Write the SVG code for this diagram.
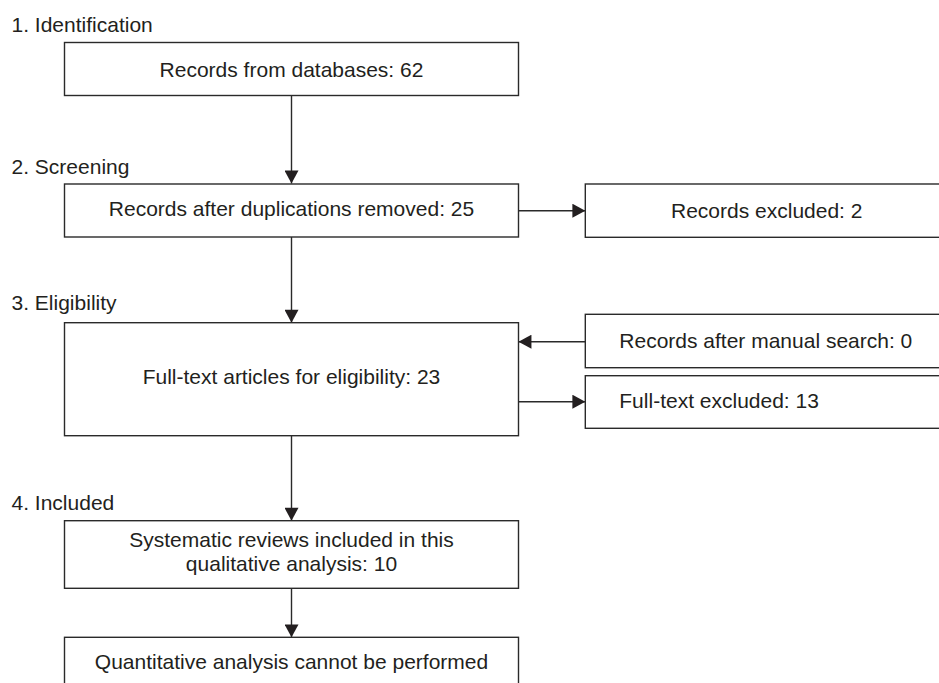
<svg xmlns="http://www.w3.org/2000/svg" width="939" height="683" viewBox="0 0 939 683">
<style>
  .box { fill: #ffffff; stroke: #2a2a2a; stroke-width: 1.4; }
  .t { font-family: "Liberation Sans", Arial, sans-serif; font-size: 21px; fill: #231f20; }
  .c { text-anchor: middle; }
  .edge { stroke: #2a2a2a; stroke-width: 1.4; fill: none; marker-end: url(#arr); }
</style>
<defs>
  <marker id="arr" markerUnits="userSpaceOnUse" markerWidth="14" markerHeight="14" viewBox="0 0 12 13" refX="12" refY="6.5" orient="auto">
    <path d="M0,0 L12,6.5 L0,13 Z" fill="#231f20"/>
  </marker>
</defs>
<rect width="939" height="683" fill="#ffffff"/>

<g id="stage-labels">
  <text class="t" x="11.5" y="32">1. Identification</text>
  <text class="t" x="11.5" y="173.5">2. Screening</text>
  <text class="t" x="11.5" y="309.5">3. Eligibility</text>
  <text class="t" x="11.5" y="510">4. Included</text>
</g>

<g id="connectors">
  <line class="edge" x1="291.5" y1="95.5" x2="291.5" y2="183.5"/>
  <line class="edge" x1="291.5" y1="237" x2="291.5" y2="322.7"/>
  <line class="edge" x1="291.5" y1="435.5" x2="291.5" y2="520.7"/>
  <line class="edge" x1="291.5" y1="588.3" x2="291.5" y2="637.3"/>
  <line class="edge" x1="518.5" y1="210.7" x2="585.3" y2="210.7"/>
  <line class="edge" x1="585.3" y1="341.7" x2="518.5" y2="341.7"/>
  <line class="edge" x1="518.5" y1="401.7" x2="585.3" y2="401.7"/>
</g>

<g id="n-databases">
  <rect class="box" x="64.5" y="42.5" width="454" height="53"/>
  <text class="t c" x="291.5" y="77">Records from databases: 62</text>
</g>
<g id="n-duplicates">
  <rect class="box" x="64.5" y="184" width="454" height="53"/>
  <text class="t c" x="291.5" y="215.5">Records after duplications removed: 25</text>
</g>
<g id="n-excluded">
  <rect class="box" x="585.3" y="184" width="370" height="53.3"/>
  <text class="t" x="671" y="217.5">Records excluded: 2</text>
</g>
<g id="n-fulltext">
  <rect class="box" x="64.5" y="322.7" width="454" height="113"/>
  <text class="t c" x="291.5" y="384">Full-text articles for eligibility: 23</text>
</g>
<g id="n-manual">
  <rect class="box" x="585.3" y="314.3" width="370" height="53.4"/>
  <text class="t" x="619.3" y="348">Records after manual search: 0</text>
</g>
<g id="n-ftexcluded">
  <rect class="box" x="585.3" y="375.7" width="370" height="52.6"/>
  <text class="t" x="619.3" y="408">Full-text excluded: 13</text>
</g>
<g id="n-included">
  <rect class="box" x="64.5" y="520.7" width="454" height="67.6"/>
  <text class="t c" x="291.5" y="547">Systematic reviews included in this</text>
  <text class="t c" x="291.5" y="571">qualitative analysis: 10</text>
</g>
<g id="n-quantitative">
  <rect class="box" x="64.5" y="637.3" width="454" height="60"/>
  <text class="t c" x="291.5" y="669">Quantitative analysis cannot be performed</text>
</g>
</svg>
